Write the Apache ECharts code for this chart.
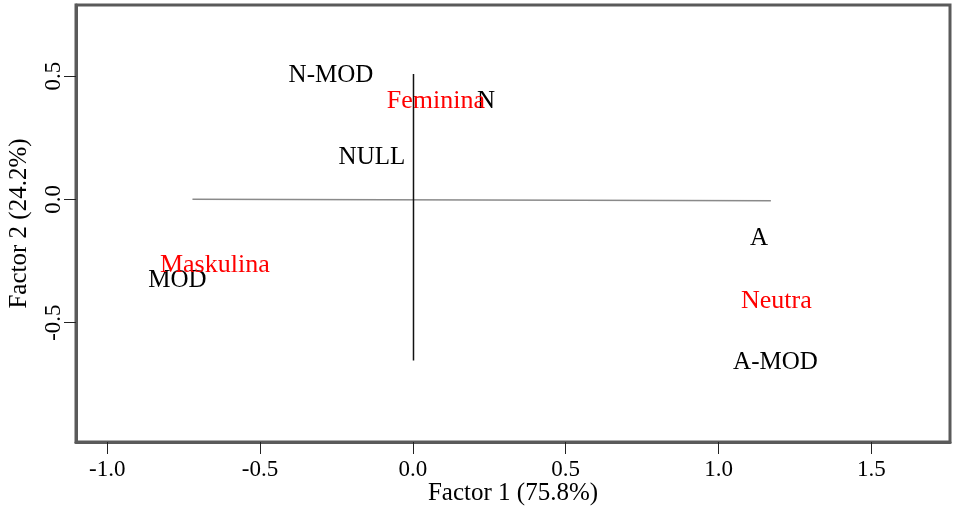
<!DOCTYPE html>
<html>
<head>
<meta charset="utf-8">
<script src="https://cdn.jsdelivr.net/npm/echarts@6/dist/echarts.min.js"></script>
<style>html,body{margin:0;padding:0;background:#fff}#c{width:953px;height:510px}</style>
</head>
<body>
<div id="c"></div>
<script>
// Row categories (black) and column categories (red)
var rowNames = ['N-MOD', 'N', 'NULL', 'MOD', 'A', 'A-MOD'];
var rowX = [-0.268, 0.239, -0.134, -0.770, 1.132, 1.186];
var rowY = [0.504, 0.396, 0.171, -0.327, -0.158, -0.663];
var colNames = ['Feminina', 'Maskulina', 'Neutra'];
var colX = [0.075, -0.648, 1.189];
var colY = [0.398, -0.266, -0.412];
// reference segments
var hLineX = [-0.721, 1.171];
var hLineY = [0.0, -0.006];
var vLineX = [0.002, 0.002];
var vLineY = [0.508, -0.654];
var xTicks = [-1.0, -0.5, 0.0, 0.5, 1.0, 1.5];
var yTicks = [-0.5, 0.0, 0.5];
var xName = 'Factor 1 (75.8%)';
var yName = 'Factor 2 (24.2%)';

var FONT = 'Liberation Serif';
function pts(names, xs, ys) {
  return names.map(function (n, i) { return { name: n, value: [xs[i], ys[i]] }; });
}
function seg(xs, ys) { return xs.map(function (x, i) { return [x, ys[i]]; }); }

var chart = echarts.init(document.getElementById('c'));
chart.setOption({
  animation: false,
  backgroundColor: '#fff',
  grid: { left: 76, right: 3, top: 5, bottom: 68, containLabel: false, outerBoundsMode: 'none',
    show: true, borderColor: '#5a5a5a', borderWidth: 3, backgroundColor: 'transparent' },
  xAxis: {
    type: 'value', min: -1.102, max: 1.757,
    name: xName, nameLocation: 'middle', nameGap: 39, nameMoveOverlap: false,
    nameTextStyle: { fontFamily: FONT, fontSize: 25, color: '#000' },
    axisLine: { show: true, onZero: false, lineStyle: { color: '#5a5a5a', width: 3 } },
    splitLine: { show: false },
    axisTick: { show: true, inside: false, length: 12, customValues: xTicks, lineStyle: { color: '#222', width: 1 } },
    axisLabel: { customValues: xTicks, fontFamily: FONT, fontSize: 23, color: '#000', margin: 16,
      formatter: function (v) { return v.toFixed(1); } }
  },
  yAxis: {
    type: 'value', min: -0.984, max: 0.788,
    name: yName, nameLocation: 'middle', nameGap: 44, nameRotate: 90, nameMoveOverlap: false,
    nameTextStyle: { fontFamily: FONT, fontSize: 25, color: '#000' },
    axisLine: { show: true, onZero: false, lineStyle: { color: '#5a5a5a', width: 3 } },
    splitLine: { show: false },
    axisTick: { show: true, inside: false, length: 12, customValues: yTicks, lineStyle: { color: '#222', width: 1 } },
    axisLabel: { customValues: yTicks, rotate: 90, fontFamily: FONT, fontSize: 23, color: '#000', margin: 11,
      formatter: function (v) { return v.toFixed(1); } }
  },
  series: [
    { type: 'line', data: seg(hLineX, hLineY), symbol: 'none', lineStyle: { color: '#8a8a8a', width: 1.5 }, silent: true },
    { type: 'line', data: seg(vLineX, vLineY), symbol: 'none', lineStyle: { color: '#111', width: 1.5 }, silent: true },
    { type: 'scatter', data: pts(rowNames, rowX, rowY), symbolSize: 0, itemStyle: { opacity: 1 },
      label: { show: true, position: 'inside', formatter: '{b}', fontFamily: FONT, fontSize: 25, color: '#000' } },
    { type: 'scatter', data: pts(colNames, colX, colY), symbolSize: 0, itemStyle: { opacity: 1 },
      label: { show: true, position: 'inside', formatter: '{b}', fontFamily: FONT, fontSize: 26, color: '#ff0000' } }
  ]
});
</script>
</body>
</html>
